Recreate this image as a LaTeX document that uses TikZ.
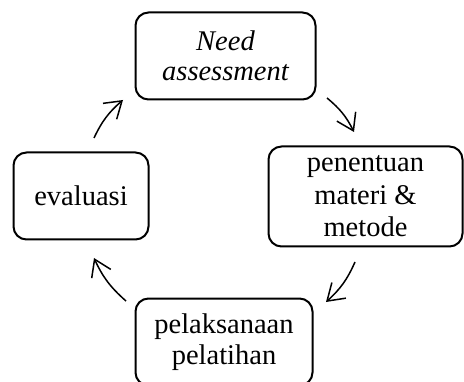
\documentclass[tikz,border=0pt]{standalone}
\usepackage{fontspec}
\setmainfont{Liberation Serif}
\usetikzlibrary{arrows.meta}
\begin{document}
\begin{tikzpicture}[x=1pt,y=1pt,
  box/.style={draw, line width=2pt, rounded corners=13pt, align=center,
    inner sep=0pt, font=\fontsize{28.5}{30.5}\selectfont},
  cyc/.style={line width=1.5pt, -{Straight Barb[length=16pt,width=21pt,line width=1.5pt]}}]
\useasboundingbox (0,0) rectangle (464,381);
\node[box, minimum width=180, minimum height=87] (need) at (225.5,325) {\itshape Need\\ \itshape assessment};
\node[box, minimum width=194, minimum height=100, font=\fontsize{28.5}{32.5}\selectfont] (pen) at (365.5,184.5) {penentuan\\materi \&\\metode};
\node[box, minimum width=177, minimum height=87] (pel) at (224,39) {pelaksanaan\\pelatihan};
\node[box, minimum width=135, minimum height=87] (eva) at (81,185) {evaluasi};
\coordinate (a1s) at (94,243);  \coordinate (a1e) at (123,281);
\coordinate (a2s) at (327,283); \coordinate (a2e) at (354,249);
\coordinate (a3s) at (355,119); \coordinate (a3e) at (326,79);
\coordinate (a4s) at (126,80);  \coordinate (a4e) at (94,123);
\draw[cyc] (a1s) to[bend left=12] (a1e);
\draw[cyc] (a2s) to[bend left=12] (a2e);
\draw[cyc] (a3s) to[bend left=12] (a3e);
\draw[cyc] (a4s) to[bend left=12] (a4e);
\end{tikzpicture}
\end{document}
